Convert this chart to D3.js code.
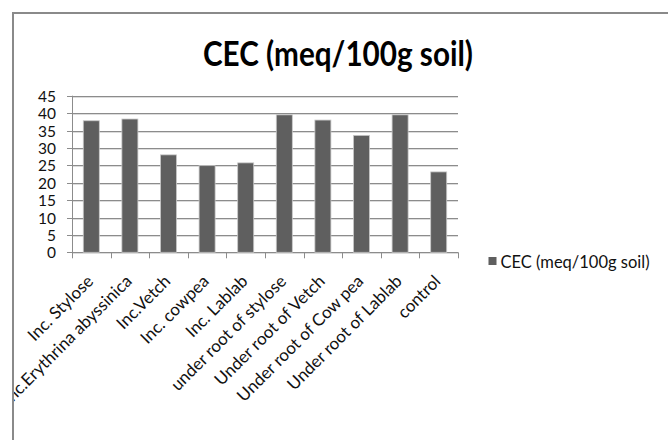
<!DOCTYPE html>
<html>
<head>
<meta charset="utf-8">
<script src="https://cdn.jsdelivr.net/npm/d3@7"></script>
<style>
  html, body { margin: 0; padding: 0; background: #fff; }
  svg { display: block; }
</style>
</head>
<body>
<svg id="chart" width="668" height="440"></svg>
<script>
// CEC per treatment
const categories = [
  "Inc. Stylose", "Inc.Erythrina abyssinica", "Inc.Vetch", "Inc. cowpea", "Inc. Lablab",
  "under root of stylose", "Under root of Vetch", "Under root of Cow pea",
  "Under root of Lablab", "control"
];
const cecValues = [37.8, 38.3, 28.0, 24.9, 25.7, 39.5, 38.0, 33.6, 39.5, 23.1];
const yTicks = [0, 5, 10, 15, 20, 25, 30, 35, 40, 45];
const seriesName = "CEC (meq/100g soil)";
const chartTitle = "CEC (meq/100g soil)";

const font = "Lato, 'Open Sans', sans-serif";
const svg = d3.select("#chart");

// everything inside the chart frame is clipped to it
svg.append("defs").append("clipPath").attr("id", "frameClip")
  .append("rect").attr("x", 13).attr("y", 13).attr("width", 655).attr("height", 427);
const root = svg.append("g").attr("clip-path", "url(#frameClip)");

const plot = { left: 72, right: 458, top: 95.7, bottom: 252.3 };

const x = d3.scaleBand().domain(categories).range([plot.left, plot.right]).paddingInner(0.585).paddingOuter(0.2925);
const xOuter = d3.scaleBand().domain(categories).range([plot.left, plot.right]);
const y = d3.scaleLinear().domain([0, 45]).range([plot.bottom, plot.top]);

// horizontal gridlines
root.append("g").selectAll("line").data(yTicks).join("line")
  .attr("x1", plot.left - 5).attr("x2", plot.right)
  .attr("y1", d => Math.round(y(d)) + 0.5).attr("y2", d => Math.round(y(d)) + 0.5)
  .attr("stroke", "#8c8c8c").attr("stroke-width", 1);
root.append("g").selectAll("line").data(yTicks).join("line")
  .attr("x1", plot.left).attr("x2", plot.right)
  .attr("y1", d => Math.round(y(d)) + 1.5).attr("y2", d => Math.round(y(d)) + 1.5)
  .attr("stroke", "#dcdcdc").attr("stroke-width", 1);

// y axis
const yAxis = d3.axisLeft(y).tickValues(yTicks).tickSize(0).tickPadding(15);
const gy = root.append("g").attr("transform", `translate(${plot.left},0)`).call(yAxis);
gy.select(".domain").remove();
gy.selectAll("text").attr("font-family", font).attr("font-size", 15.5).attr("fill", "#111")
  .attr("dy", "0.36em").attr("x", -16);
root.append("line")
  .attr("x1", plot.left + 0.5).attr("x2", plot.left + 0.5)
  .attr("y1", plot.top).attr("y2", plot.bottom + 6)
  .attr("stroke", "#8c8c8c");

// x axis tick marks at category boundaries
const bounds = categories.map(c => xOuter(c)).concat([plot.right]);
root.append("g").selectAll("line").data(bounds.slice(1)).join("line")
  .attr("x1", d => Math.round(d) + 0.5).attr("x2", d => Math.round(d) + 0.5)
  .attr("y1", plot.bottom).attr("y2", plot.bottom + 6)
  .attr("stroke", "#8c8c8c");

// bars
root.append("g").selectAll("rect").data(cecValues).join("rect")
  .attr("x", (d, i) => x(categories[i]))
  .attr("width", x.bandwidth())
  .attr("y", d => y(d))
  .attr("height", d => y(0) - y(d))
  .attr("fill", "#5f5f5f")
  .attr("stroke", "#c8c8c8").attr("stroke-width", 0.8);

// category labels, rotated
root.append("g").selectAll("text").data(categories).join("text")
  .attr("transform", c => `translate(${xOuter(c) + xOuter.bandwidth() / 2 + 3},${plot.bottom + 30}) rotate(-45)`)
  .attr("text-anchor", "end")
  .attr("font-family", font).attr("font-size", 17).attr("fill", "#111")
  .text(c => c);

// title
root.append("text")
  .attr("x", 338).attr("y", 66)
  .attr("text-anchor", "middle")
  .attr("font-family", font).attr("font-weight", "bold").attr("font-size", 35).attr("fill", "#000")
  .attr("textLength", 270).attr("lengthAdjust", "spacingAndGlyphs")
  .text(chartTitle);

// legend
const lg = root.append("g").attr("transform", "translate(488.5,257)");
lg.append("rect").attr("x", 0).attr("y", 0).attr("width", 8).attr("height", 8).attr("fill", "#5f5f5f");
lg.append("text").attr("x", 12).attr("y", 10.5)
  .attr("font-family", font).attr("font-size", 16.5).attr("fill", "#111")
  .text(seriesName);

// chart frame
svg.append("path")
  .attr("d", "M13,440 V13 H668")
  .attr("fill", "none").attr("stroke", "#8a8a8a").attr("stroke-width", 2);
</script>
</body>
</html>
